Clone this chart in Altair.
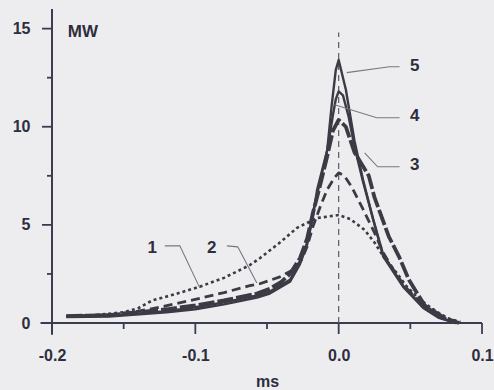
import altair as alt
import pandas as pd

# ---- data ----
x1 = [-0.19, -0.17, -0.15, -0.14, -0.13, -0.115, -0.097, -0.08, -0.062, -0.055, -0.041, -0.029, -0.015, 0.0, 0.008, 0.018, 0.025, 0.032, 0.04, 0.047, 0.055, 0.063, 0.07, 0.077, 0.085]
y1 = [0.35, 0.4, 0.55, 0.75, 1.15, 1.45, 1.85, 2.3, 2.95, 3.3, 4.1, 4.85, 5.35, 5.5, 5.3, 4.75, 4.1, 3.3, 2.6, 1.9, 1.3, 0.85, 0.5, 0.22, 0.05]

x2 = [-0.19, -0.16, -0.14, -0.125, -0.1, -0.08, -0.062, -0.055, -0.041, -0.032, -0.026, -0.022, -0.018, -0.013, -0.008, -0.003, 0.0, 0.004, 0.009, 0.017, 0.025, 0.031, 0.04, 0.047, 0.055, 0.063, 0.072, 0.082]
y2 = [0.35, 0.42, 0.6, 0.8, 1.2, 1.55, 1.9, 2.0, 2.35, 2.7, 3.2, 3.9, 4.9, 5.9, 6.8, 7.4, 7.65, 7.5, 6.95, 5.8, 4.6, 3.6, 2.5, 1.8, 1.2, 0.75, 0.3, 0.05]

x3 = [-0.19, -0.16, -0.146, -0.12, -0.1, -0.08, -0.057, -0.048, -0.04, -0.034, -0.027, -0.022, -0.018, -0.013, -0.008, -0.004, 0.0, 0.005, 0.011, 0.016, 0.021, 0.025, 0.035, 0.042, 0.049, 0.06, 0.074, 0.084]
y3 = [0.35, 0.4, 0.5, 0.7, 0.9, 1.15, 1.5, 1.75, 2.1, 2.5, 3.3, 4.3, 5.6, 7.0, 8.5, 9.8, 10.35, 10.0, 8.7, 8.1, 7.5, 6.4, 4.4, 3.4, 2.2, 0.9, 0.25, 0.0]

x4 = [-0.19, -0.16, -0.146, -0.12, -0.1, -0.08, -0.057, -0.048, -0.034, -0.027, -0.022, -0.018, -0.013, -0.008, -0.004, -0.002, 0.0, 0.003, 0.007, 0.011, 0.017, 0.024, 0.031, 0.045, 0.059, 0.07, 0.082]
y4 = [0.35, 0.38, 0.45, 0.6, 0.8, 1.05, 1.4, 1.6, 2.2, 3.1, 4.1, 5.6, 7.2, 8.8, 10.6, 11.4, 11.8, 11.6, 10.5, 9.0, 7.2, 5.3, 3.5, 1.9, 0.8, 0.28, 0.0]

x5 = [-0.19, -0.16, -0.146, -0.12, -0.1, -0.08, -0.057, -0.048, -0.034, -0.027, -0.022, -0.018, -0.015, -0.008, -0.005, -0.002, 0.0, 0.005, 0.011, 0.017, 0.024, 0.031, 0.045, 0.059, 0.07, 0.082]
y5 = [0.3, 0.33, 0.4, 0.55, 0.7, 0.95, 1.3, 1.5, 2.1, 3.0, 4.0, 5.4, 6.8, 8.8, 11.0, 12.9, 13.4, 11.9, 9.3, 7.3, 5.3, 3.4, 1.84, 0.77, 0.26, 0.0]

# curve labels and leader lines
label_text = ["1", "2", "3", "4", "5"]
label_x = [-0.130, -0.0885, 0.053, 0.053, 0.053]
label_y = [3.83, 3.83, 8.06, 10.56, 13.1]

leader_id = ["1", "1", "1", "2", "2", "2", "3", "3", "3", "4", "4", "4", "5", "5", "5"]
leader_x = [-0.1213, -0.1108, -0.0969, -0.078, -0.0704, -0.0571, 0.0181, 0.0272, 0.0425, -0.0028, 0.0265, 0.0425, 0.0056, 0.0355, 0.0425]
leader_y = [3.93, 3.93, 1.79, 3.93, 3.88, 2.04, 8.67, 7.96, 7.96, 11.12, 10.46, 10.46, 12.76, 13.06, 13.06]

x_major = [-0.2, -0.1, 0.0, 0.1]
x_minor = [-0.15, -0.05, 0.05]
y_major = [0, 5, 10, 15]
y_minor = [2.5, 7.5, 12.5]
x_dom = [-0.2, 0.1]
y_dom = [0, 16]

INK = "#3b3b45"
AXC = "#3a3c52"
BG = "#ededf0"
TXT = "#2e2e3c"
FONT = "Liberation Sans"

W, H = 430, 314
xs = alt.Scale(domain=x_dom, nice=False, zero=False)
ys = alt.Scale(domain=y_dom, nice=False, zero=False)
px_x = (x_dom[1] - x_dom[0]) / W   # data units per pixel
px_y = (y_dom[1] - y_dom[0]) / H

x_axis = alt.Axis(
    values=x_major, orient="bottom", domain=False, grid=False, title="ms",
    ticks=False,
    labelExpr="datum.value < -0.0001 ? '-' + format(abs(datum.value), '.1f') : format(abs(datum.value), '.1f')",
    labelFont=FONT, labelFontSize=16, labelFontWeight="bold", labelColor=TXT,
    labelPadding=24, labelFlush=False, labelOverlap=False,
    titleFont=FONT, titleFontSize=16, titleFontWeight="bold", titleColor=TXT, titlePadding=10,
)
y_axis = alt.Axis(
    values=y_major, orient="left", domain=False, grid=False, title=None,
    ticks=False,
    labelExpr="format(datum.value, 'd')",
    labelFont=FONT, labelFontSize=16, labelFontWeight="bold", labelColor=TXT,
    labelPadding=22, labelFlush=False, labelOverlap=False,
)

X = lambda f="x:Q": alt.X(f, scale=xs)
Y = lambda f="y:Q": alt.Y(f, scale=ys)


def curve(xv, yv, width, dash=None):
    df = pd.DataFrame({"x": xv, "y": yv})
    kw = dict(color=INK, strokeWidth=width, strokeJoin="round", strokeCap="butt", clip=False)
    if dash:
        kw["strokeDash"] = dash
    return alt.Chart(df).mark_line(**kw).encode(
        x=X(), y=Y(), order="idx:Q",
    ).transform_window(idx="row_number()")


def xtick(vals, length):
    df = pd.DataFrame({"x": vals, "y": [0.0] * len(vals), "y2": [-length * px_y] * len(vals)})
    return alt.Chart(df).mark_rule(color=AXC, strokeWidth=1.8).encode(x=X(), y=Y(), y2="y2:Q")


def ytick(vals, length):
    df = pd.DataFrame({"y": vals, "x": [x_dom[0] - length * px_x] * len(vals), "x2": [x_dom[0]] * len(vals)})
    return alt.Chart(df).mark_rule(color=AXC, strokeWidth=1.8).encode(y=Y(), x=X(), x2="x2:Q")


# axis lines (cross at origin like the original); this layer carries the axes
xline = alt.Chart(pd.DataFrame({"x": [-0.208], "x2": [0.1], "y": [0]})).mark_rule(
    color=AXC, strokeWidth=2).encode(
    x=alt.X("x:Q", scale=xs, axis=x_axis), x2="x2:Q",
    y=alt.Y("y:Q", scale=ys, axis=y_axis))
yline = alt.Chart(pd.DataFrame({"x": [-0.2], "y": [-0.6], "y2": [16]})).mark_rule(
    color=AXC, strokeWidth=2).encode(x=X(), y=Y(), y2="y2:Q")

zline = alt.Chart(pd.DataFrame({"x": [0.0], "y": [0], "y2": [14.8]})).mark_rule(
    color="#5a5a66", strokeWidth=1.2, strokeDash=[6, 5]).encode(x=X(), y=Y(), y2="y2:Q")

leaders = alt.Chart(pd.DataFrame({"id": leader_id, "x": leader_x, "y": leader_y})).mark_line(
    color="#77777f", strokeWidth=1.1).encode(x=X(), y=Y(), detail="id:N")

labels = alt.Chart(pd.DataFrame({"t": label_text, "x": label_x, "y": label_y})).mark_text(
    font=FONT, fontSize=17, fontWeight="bold", color=TXT, align="center", baseline="middle").encode(
    x=X(), y=Y(), text="t:N")

mw = alt.Chart(pd.DataFrame({"t": ["MW"], "x": [-0.189], "y": [14.85]})).mark_text(
    font=FONT, fontSize=17, fontWeight="bold", color=TXT, align="left", baseline="middle").encode(
    x=X(), y=Y(), text="t:N")

chart = alt.layer(
    xline, yline,
    xtick(x_major, 11), xtick(x_minor, 6),
    ytick(y_major, 10), ytick(y_minor, 5),
    curve(x1, y1, 2.6, [3, 3]),
    zline,
    curve(x2, y2, 2.8, [9, 5]),
    curve(x3, y3, 3.8, [16, 3]),
    curve(x4, y4, 2.4),
    curve(x5, y5, 2.4),
    leaders, labels, mw,
).properties(
    width=W, height=H,
    background=BG,
    padding={"left": 52, "top": 9, "right": 12, "bottom": 67},
    autosize=alt.AutoSizeParams(type="none"),
).configure_view(stroke=None)

chart.save("out.html", embed_options={"renderer": "svg", "actions": False})
